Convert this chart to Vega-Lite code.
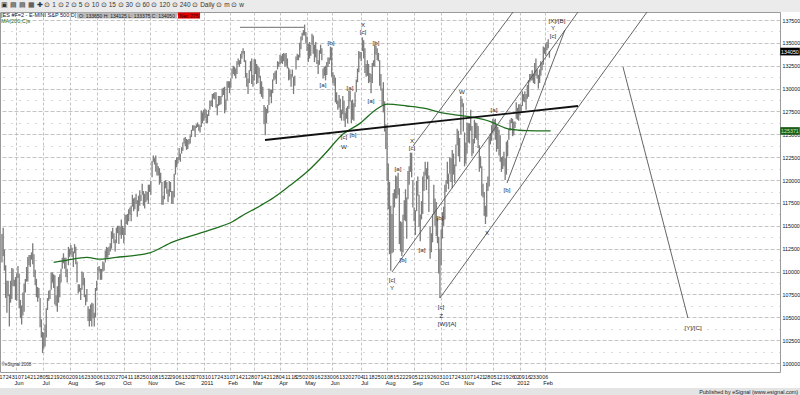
{
"$schema":"https://vega.github.io/schema/vega-lite/v6.json",
"width":780,"height":360,
"autosize":{"type":"none"},
"padding":{"left":0,"top":12,"right":20,"bottom":23},
"background":"white",
"view":{"stroke":"#9a9a9a","strokeWidth":1,"fill":"white"},
"config":{"font":"Liberation Sans","text":{"font":"Liberation Sans"}},
"resolve":{"axis":{"x":"independent","y":"independent"}},
"datasets":{
"bars":[
{"i":0,"h":1141,"l":1110},{"i":1,"h":1148,"l":1117},{"i":2,"h":1124,"l":1101},{"i":3,"h":1107,"l":1071},{"i":4,"h":1090,"l":1055},
{"i":5,"h":1090,"l":1073},{"i":6,"h":1075,"l":1040},{"i":7,"h":1090,"l":1066},{"i":8,"h":1104,"l":1070},{"i":9,"h":1103,"l":1084},
{"i":10,"h":1091,"l":1084},{"i":11,"h":1094,"l":1069},{"i":12,"h":1098,"l":1068},{"i":13,"h":1106,"l":1093},{"i":14,"h":1098,"l":1060},
{"i":15,"h":1069,"l":1049},{"i":16,"h":1063,"l":1042},{"i":17,"h":1077,"l":1052},{"i":18,"h":1087,"l":1056},{"i":19,"h":1092,"l":1077},
{"i":20,"h":1105,"l":1089},{"i":21,"h":1116,"l":1089},{"i":22,"h":1118,"l":1107},{"i":23,"h":1118,"l":1105},{"i":24,"h":1121,"l":1113},
{"i":25,"h":1131,"l":1108},{"i":26,"h":1119,"l":1094},{"i":27,"h":1102,"l":1085},{"i":28,"h":1092,"l":1072},{"i":29,"h":1083,"l":1067},
{"i":30,"h":1082,"l":1071},{"i":31,"h":1071,"l":1039},{"i":32,"h":1048,"l":1028},{"i":33,"h":1034,"l":1011},{"i":34,"h":1033,"l":1016},
{"i":35,"h":1042,"l":1018},{"i":36,"h":1060,"l":1028},{"i":37,"h":1071,"l":1058},{"i":38,"h":1079,"l":1068},{"i":39,"h":1080,"l":1070},
{"i":40,"h":1099,"l":1080},{"i":41,"h":1099,"l":1088},{"i":42,"h":1097,"l":1082},{"i":43,"h":1096,"l":1064},{"i":44,"h":1074,"l":1062},
{"i":45,"h":1084,"l":1056},{"i":46,"h":1094,"l":1066},{"i":47,"h":1097,"l":1072},{"i":48,"h":1103,"l":1088},{"i":49,"h":1115,"l":1103},
{"i":50,"h":1120,"l":1109},{"i":51,"h":1115,"l":1103},{"i":52,"h":1115,"l":1094},{"i":53,"h":1103,"l":1088},{"i":54,"h":1127,"l":1107},
{"i":55,"h":1125,"l":1116},{"i":56,"h":1129,"l":1119},{"i":57,"h":1126,"l":1116},{"i":58,"h":1122,"l":1105},{"i":59,"h":1130,"l":1120},
{"i":60,"h":1127,"l":1108},{"i":61,"h":1111,"l":1088},{"i":62,"h":1086,"l":1076},{"i":63,"h":1086,"l":1078},{"i":64,"h":1082,"l":1069},
{"i":65,"h":1100,"l":1080},{"i":66,"h":1099,"l":1085},{"i":67,"h":1093,"l":1072},{"i":68,"h":1075,"l":1063},{"i":69,"h":1081,"l":1067},
{"i":70,"h":1062,"l":1046},{"i":71,"h":1059,"l":1040},{"i":72,"h":1064,"l":1046},{"i":73,"h":1066,"l":1040},{"i":74,"h":1065,"l":1049},
{"i":75,"h":1055,"l":1040},{"i":76,"h":1082,"l":1050},{"i":77,"h":1090,"l":1079},{"i":78,"h":1105,"l":1091},{"i":79,"h":1106,"l":1100},
{"i":80,"h":1103,"l":1091},{"i":81,"h":1103,"l":1091},{"i":82,"h":1111,"l":1100},{"i":83,"h":1110,"l":1101},{"i":84,"h":1123,"l":1110},
{"i":85,"h":1127,"l":1115},{"i":86,"h":1126,"l":1115},{"i":87,"h":1127,"l":1118},{"i":88,"h":1131,"l":1122},{"i":89,"h":1144,"l":1125},
{"i":90,"h":1148,"l":1136},{"i":91,"h":1142,"l":1131},{"i":92,"h":1135,"l":1122},{"i":93,"h":1148,"l":1131},{"i":94,"h":1150,"l":1142},
{"i":95,"h":1150,"l":1130},{"i":96,"h":1149,"l":1140},{"i":97,"h":1157,"l":1136},{"i":98,"h":1150,"l":1140},{"i":99,"h":1148,"l":1131},
{"i":100,"h":1162,"l":1140},{"i":101,"h":1162,"l":1152},{"i":102,"h":1163,"l":1151},{"i":103,"h":1168,"l":1155},{"i":104,"h":1170,"l":1162},
{"i":105,"h":1172,"l":1155},{"i":106,"h":1184,"l":1171},{"i":107,"h":1180,"l":1166},{"i":108,"h":1181,"l":1168},{"i":109,"h":1185,"l":1174},
{"i":110,"h":1178,"l":1160},{"i":111,"h":1183,"l":1166},{"i":112,"h":1189,"l":1172},{"i":113,"h":1184,"l":1177},{"i":114,"h":1196,"l":1184},
{"i":115,"h":1188,"l":1172},{"i":116,"h":1185,"l":1169},{"i":117,"h":1188,"l":1176},{"i":118,"h":1187,"l":1178},{"i":119,"h":1195,"l":1174},
{"i":120,"h":1195,"l":1187},{"i":121,"h":1199,"l":1184},{"i":122,"h":1221,"l":1203},{"i":123,"h":1227,"l":1220},{"i":124,"h":1224,"l":1217},
{"i":125,"h":1227,"l":1209},{"i":126,"h":1219,"l":1205},{"i":127,"h":1215,"l":1205},{"i":128,"h":1213,"l":1195},{"i":129,"h":1208,"l":1197},
{"i":130,"h":1198,"l":1173},{"i":131,"h":1183,"l":1173},{"i":132,"h":1199,"l":1179},{"i":133,"h":1200,"l":1191},{"i":134,"h":1198,"l":1185},
{"i":135,"h":1190,"l":1176},{"i":136,"h":1199,"l":1182},{"i":137,"h":1198,"l":1187},{"i":138,"h":1188,"l":1174},{"i":139,"h":1188,"l":1174},
{"i":140,"h":1207,"l":1181},{"i":141,"h":1222,"l":1206},{"i":142,"h":1225,"l":1214},{"i":143,"h":1225,"l":1218},{"i":144,"h":1235,"l":1222},
{"i":145,"h":1229,"l":1220},{"i":146,"h":1236,"l":1229},{"i":147,"h":1241,"l":1232},{"i":148,"h":1246,"l":1240},{"i":149,"h":1247,"l":1237},
{"i":150,"h":1245,"l":1233},{"i":151,"h":1244,"l":1234},{"i":152,"h":1245,"l":1239},{"i":153,"h":1249,"l":1240},{"i":154,"h":1255,"l":1247},
{"i":155,"h":1260,"l":1254},{"i":156,"h":1260,"l":1254},{"i":157,"h":1259,"l":1247},{"i":158,"h":1261,"l":1257},{"i":159,"h":1263,"l":1258},
{"i":160,"h":1261,"l":1254},{"i":161,"h":1260,"l":1252},{"i":162,"h":1276,"l":1258},{"i":163,"h":1274,"l":1262},{"i":164,"h":1277,"l":1265},
{"i":165,"h":1278,"l":1268},{"i":166,"h":1277,"l":1262},{"i":167,"h":1272,"l":1262},{"i":168,"h":1277,"l":1270},{"i":169,"h":1287,"l":1277},
{"i":170,"h":1287,"l":1281},{"i":171,"h":1294,"l":1280},{"i":172,"h":1295,"l":1289},{"i":173,"h":1296,"l":1288},{"i":174,"h":1296,"l":1279},
{"i":175,"h":1283,"l":1271},{"i":176,"h":1292,"l":1281},{"i":177,"h":1292,"l":1282},{"i":178,"h":1292,"l":1283},{"i":179,"h":1300,"l":1291},
{"i":180,"h":1301,"l":1293},{"i":181,"h":1302,"l":1273},{"i":182,"h":1288,"l":1276},{"i":183,"h":1308,"l":1287},{"i":184,"h":1308,"l":1301},
{"i":185,"h":1308,"l":1295},{"i":186,"h":1311,"l":1301},{"i":187,"h":1322,"l":1311},{"i":188,"h":1325,"l":1316},{"i":189,"h":1324,"l":1314},
{"i":190,"h":1322,"l":1311},{"i":191,"h":1330,"l":1316},{"i":192,"h":1333,"l":1326},{"i":193,"h":1331,"l":1324},{"i":194,"h":1338,"l":1327},
{"i":195,"h":1341,"l":1333},{"i":196,"h":1344,"l":1338},{"i":197,"h":1341,"l":1329},{"i":198,"h":1331,"l":1312},{"i":199,"h":1317,"l":1302},
{"i":200,"h":1311,"l":1294},{"i":201,"h":1320,"l":1306},{"i":202,"h":1330,"l":1319},{"i":203,"h":1333,"l":1305},{"i":204,"h":1315,"l":1302},
{"i":205,"h":1332,"l":1309},{"i":206,"h":1332,"l":1316},{"i":207,"h":1327,"l":1305},{"i":208,"h":1325,"l":1306},{"i":209,"h":1323,"l":1312},
{"i":210,"h":1314,"l":1294},{"i":211,"h":1308,"l":1291},{"i":212,"h":1302,"l":1289},{"i":213,"h":1282,"l":1261},{"i":214,"h":1280,"l":1249},
{"i":215,"h":1278,"l":1262},{"i":216,"h":1282,"l":1273},{"i":217,"h":1300,"l":1282},{"i":218,"h":1299,"l":1291},{"i":219,"h":1299,"l":1284},
{"i":220,"h":1310,"l":1295},{"i":221,"h":1317,"l":1309},{"i":222,"h":1319,"l":1310},{"i":223,"h":1320,"l":1305},{"i":224,"h":1330,"l":1321},
{"i":225,"h":1329,"l":1324},{"i":226,"h":1337,"l":1327},{"i":227,"h":1336,"l":1328},{"i":228,"h":1338,"l":1327},{"i":229,"h":1339,"l":1330},
{"i":230,"h":1338,"l":1324},{"i":231,"h":1339,"l":1325},{"i":232,"h":1333,"l":1322},{"i":233,"h":1323,"l":1309},{"i":234,"h":1321,"l":1310},
{"i":235,"h":1316,"l":1302},{"i":236,"h":1321,"l":1313},{"i":237,"h":1313,"l":1294},{"i":238,"h":1314,"l":1303},{"i":239,"h":1335,"l":1321},
{"i":240,"h":1338,"l":1331},{"i":241,"h":1337,"l":1331},{"i":242,"h":1350,"l":1334},{"i":243,"h":1357,"l":1343},{"i":244,"h":1361,"l":1353},
{"i":245,"h":1364,"l":1358},{"i":246,"h":1370,"l":1358},{"i":247,"h":1362,"l":1350},{"i":248,"h":1357,"l":1341},{"i":249,"h":1349,"l":1329},
{"i":250,"h":1351,"l":1333},{"i":251,"h":1348,"l":1336},{"i":252,"h":1360,"l":1348},{"i":253,"h":1358,"l":1338},{"i":254,"h":1348,"l":1329},
{"i":255,"h":1351,"l":1334},{"i":256,"h":1343,"l":1327},{"i":257,"h":1331,"l":1316},{"i":258,"h":1342,"l":1326},{"i":259,"h":1348,"l":1338},
{"i":260,"h":1344,"l":1331},{"i":261,"h":1322,"l":1311},{"i":262,"h":1324,"l":1314},{"i":263,"h":1325,"l":1309},{"i":264,"h":1329,"l":1315},
{"i":265,"h":1334,"l":1324},{"i":266,"h":1334,"l":1327},{"i":267,"h":1346,"l":1331},{"i":268,"h":1345,"l":1313},{"i":269,"h":1318,"l":1306},
{"i":270,"h":1315,"l":1303},{"i":271,"h":1312,"l":1285},{"i":272,"h":1296,"l":1283},{"i":273,"h":1287,"l":1277},{"i":274,"h":1293,"l":1279},
{"i":275,"h":1289,"l":1268},{"i":276,"h":1277,"l":1265},{"i":277,"h":1292,"l":1272},{"i":278,"h":1287,"l":1265},{"i":279,"h":1274,"l":1258},
{"i":280,"h":1279,"l":1267},{"i":281,"h":1281,"l":1262},{"i":282,"h":1298,"l":1278},{"i":283,"h":1298,"l":1286},{"i":284,"h":1287,"l":1262},
{"i":285,"h":1288,"l":1266},{"i":286,"h":1284,"l":1265},{"i":287,"h":1296,"l":1280},{"i":288,"h":1310,"l":1296},{"i":289,"h":1322,"l":1307},
{"i":290,"h":1341,"l":1318},{"i":291,"h":1340,"l":1333},{"i":292,"h":1340,"l":1330},{"i":293,"h":1356,"l":1341},{"i":294,"h":1353,"l":1333},
{"i":295,"h":1344,"l":1317},{"i":296,"h":1327,"l":1313},{"i":297,"h":1331,"l":1314},{"i":298,"h":1327,"l":1306},{"i":299,"h":1317,"l":1307},
{"i":300,"h":1316,"l":1295},{"i":301,"h":1328,"l":1306},{"i":302,"h":1331,"l":1324},{"i":303,"h":1348,"l":1324},{"i":304,"h":1347,"l":1337},
{"i":305,"h":1344,"l":1331},{"i":306,"h":1339,"l":1330},{"i":307,"h":1331,"l":1303},{"i":308,"h":1316,"l":1298},{"i":309,"h":1300,"l":1282},
{"i":310,"h":1307,"l":1274},{"i":311,"h":1286,"l":1253},{"i":312,"h":1261,"l":1234},{"i":313,"h":1260,"l":1199},{"i":314,"h":1218,"l":1168},
{"i":315,"h":1198,"l":1119},{"i":316,"h":1172,"l":1101},{"i":317,"h":1163,"l":1120},{"i":318,"h":1186,"l":1121},{"i":319,"h":1190,"l":1170},
{"i":320,"h":1205,"l":1180},{"i":321,"h":1204,"l":1180},{"i":322,"h":1208,"l":1184},{"i":323,"h":1191,"l":1130},{"i":324,"h":1155,"l":1122},
{"i":325,"h":1154,"l":1117},{"i":326,"h":1162,"l":1121},{"i":327,"h":1178,"l":1156},{"i":328,"h":1190,"l":1155},{"i":329,"h":1181,"l":1136},
{"i":330,"h":1210,"l":1179},{"i":331,"h":1215,"l":1195},{"i":332,"h":1230,"l":1209},{"i":333,"h":1230,"l":1203},{"i":334,"h":1200,"l":1170},
{"i":335,"h":1170,"l":1155},{"i":336,"h":1167,"l":1140},{"i":337,"h":1199,"l":1166},{"i":338,"h":1204,"l":1183},{"i":339,"h":1184,"l":1149},
{"i":340,"h":1162,"l":1133},{"i":341,"h":1177,"l":1157},{"i":342,"h":1204,"l":1163},{"i":343,"h":1209,"l":1188},{"i":344,"h":1220,"l":1205},
{"i":345,"h":1213,"l":1189},{"i":346,"h":1220,"l":1201},{"i":347,"h":1205,"l":1165},{"i":348,"h":1149,"l":1114},{"i":349,"h":1142,"l":1121},
{"i":350,"h":1163,"l":1132},{"i":351,"h":1195,"l":1163},{"i":352,"h":1180,"l":1150},{"i":353,"h":1176,"l":1139},{"i":354,"h":1159,"l":1131},
{"i":355,"h":1138,"l":1098},{"i":356,"h":1125,"l":1071},{"i":357,"h":1146,"l":1107},{"i":358,"h":1165,"l":1136},{"i":359,"h":1171,"l":1150},
{"i":360,"h":1195,"l":1157},{"i":361,"h":1200,"l":1187},{"i":362,"h":1220,"l":1196},{"i":363,"h":1207,"l":1190},{"i":364,"h":1225,"l":1207},
{"i":365,"h":1224,"l":1198},{"i":366,"h":1233,"l":1191},{"i":367,"h":1229,"l":1206},{"i":368,"h":1217,"l":1197},{"i":369,"h":1239,"l":1215},
{"i":370,"h":1256,"l":1238},{"i":371,"h":1254,"l":1226},{"i":372,"h":1246,"l":1220},{"i":373,"h":1292,"l":1250},{"i":374,"h":1289,"l":1280},
{"i":375,"h":1284,"l":1253},{"i":376,"h":1252,"l":1215},{"i":377,"h":1241,"l":1218},{"i":378,"h":1263,"l":1229},{"i":379,"h":1262,"l":1241},
{"i":380,"h":1262,"l":1240},{"i":381,"h":1277,"l":1254},{"i":382,"h":1259,"l":1226},{"i":383,"h":1245,"l":1229},{"i":384,"h":1266,"l":1240},
{"i":385,"h":1263,"l":1246},{"i":386,"h":1262,"l":1244},{"i":387,"h":1259,"l":1235},{"i":388,"h":1238,"l":1209},{"i":389,"h":1226,"l":1213},
{"i":390,"h":1215,"l":1183},{"i":391,"h":1196,"l":1181},{"i":392,"h":1187,"l":1161},{"i":393,"h":1172,"l":1152},{"i":394,"h":1197,"l":1160},
{"i":395,"h":1204,"l":1188},{"i":396,"h":1247,"l":1193},{"i":397,"h":1251,"l":1239},{"i":398,"h":1260,"l":1243},{"i":399,"h":1267,"l":1251},
{"i":400,"h":1266,"l":1253},{"i":401,"h":1267,"l":1244},{"i":402,"h":1260,"l":1231},{"i":403,"h":1258,"l":1234},{"i":404,"h":1255,"l":1227},
{"i":405,"h":1249,"l":1220},{"i":406,"h":1225,"l":1209},{"i":407,"h":1226,"l":1212},{"i":408,"h":1231,"l":1215},{"i":409,"h":1224,"l":1200},
{"i":410,"h":1242,"l":1206},{"i":411,"h":1244,"l":1226},{"i":412,"h":1256,"l":1244},{"i":413,"h":1266,"l":1254},{"i":414,"h":1268,"l":1262},
{"i":415,"h":1267,"l":1248},{"i":416,"h":1264,"l":1249},{"i":417,"h":1264,"l":1257},{"i":418,"h":1285,"l":1267},{"i":419,"h":1279,"l":1266},
{"i":420,"h":1283,"l":1265},{"i":421,"h":1283,"l":1271},{"i":422,"h":1282,"l":1274},{"i":423,"h":1297,"l":1281},{"i":424,"h":1294,"l":1286},
{"i":425,"h":1297,"l":1285},{"i":426,"h":1294,"l":1277},{"i":427,"h":1304,"l":1289},{"i":428,"h":1309,"l":1291},{"i":429,"h":1316,"l":1307},
{"i":430,"h":1316,"l":1309},{"i":431,"h":1320,"l":1309},{"i":432,"h":1316,"l":1306},{"i":433,"h":1328,"l":1305},{"i":434,"h":1333,"l":1314},
{"i":435,"h":1321,"l":1311},{"i":436,"h":1315,"l":1300},{"i":437,"h":1321,"l":1306},{"i":438,"h":1330,"l":1314},{"i":439,"h":1328,"l":1320},
{"i":440,"h":1346,"l":1326},{"i":441,"h":1345,"l":1338},{"i":442,"h":1349,"l":1336},{"i":443,"h":1351,"l":1342},{"i":444,"h":1354,"l":1344},
{"i":445,"h":1341.25,"l":1333.75}
],
"ma":[
{"i":42,"v":1110},{"i":53,"v":1112.5},{"i":69,"v":1115.5},{"i":80,"v":1113.5},{"i":93,"v":1115.5},{"i":107,"v":1117.5},
{"i":120,"v":1120.5},{"i":139,"v":1132.5},{"i":161,"v":1142},{"i":175,"v":1148},{"i":188,"v":1155},{"i":194,"v":1160},
{"i":210,"v":1172},{"i":221,"v":1181},{"i":234,"v":1194},{"i":248,"v":1209},{"i":262,"v":1228},{"i":277,"v":1250},
{"i":291,"v":1262},{"i":305,"v":1278},{"i":313,"v":1283},{"i":329,"v":1281},{"i":345,"v":1278},{"i":356,"v":1274},
{"i":370,"v":1271},{"i":383,"v":1268.5},{"i":397,"v":1264},{"i":410,"v":1256.5},{"i":420,"v":1254.5},{"i":427,"v":1254},
{"i":446,"v":1253.7}
],
"channels":[
{"g":"L1","i":334.1,"p":1237.2},{"g":"L1","i":415.4,"p":1383.7},
{"g":"L2","i":317.0,"p":1099.5},{"g":"L2","i":468.2,"p":1383.7},
{"g":"L3","i":356.0,"p":1071.1},{"g":"L3","i":524.3,"p":1383.7},
{"g":"L4","i":410.5,"p":1196.8},{"g":"L4","i":457.6,"p":1364.1},
{"g":"L5","i":504.8,"p":1323.6},{"g":"L5","i":557.6,"p":1049.2}
],
"hline":[{"i":193.5,"p":1367},{"i":246.3,"p":1367}],
"trend":[{"i":213.8,"p":1243.8},{"i":468.2,"p":1281.0}],
"labels":[
{"i":267.4,"p":1349.9,"t":"[b]"},{"i":260.9,"p":1303.9,"t":"[a]"},{"i":293.5,"p":1369.5,"t":"X"},{"i":293.5,"p":1361.9,"t":"[c]"},
{"i":304.0,"p":1349.9,"t":"[b]"},{"i":282.9,"p":1300.7,"t":"[a]"},{"i":300.0,"p":1286.4,"t":"[a]"},{"i":278.0,"p":1247.1,"t":"[c]"},
{"i":278.0,"p":1236.2,"t":"W"},{"i":285.3,"p":1249.3,"t":"[b]"},{"i":321.9,"p":1212.1,"t":"[a]"},{"i":325.9,"p":1112.6,"t":"[b]"},
{"i":317.0,"p":1090.7,"t":"[c]"},{"i":317.0,"p":1082.0,"t":"Y"},{"i":333.3,"p":1242.7,"t":"X"},{"i":333.3,"p":1235.1,"t":"[c]"},
{"i":341.4,"p":1123.5,"t":"[a]"},{"i":356.0,"p":1158.5,"t":"[b]"},{"i":356.9,"p":1061.2,"t":"[c]"},{"i":356.9,"p":1051.4,"t":"Z"},
{"i":361.7,"p":1042.6,"t":"[W]/[A]"},{"i":373.9,"p":1296.3,"t":"W"},{"i":399.9,"p":1276.6,"t":"[a]"},{"i":394.2,"p":1142.1,"t":"X"},
{"i":410.5,"p":1189.1,"t":"[b]"},{"i":451.1,"p":1373.9,"t":"[X]/[B]"},{"i":447.9,"p":1366.3,"t":"Y"},{"i":447.9,"p":1357.5,"t":"[c]"},
{"i":561.7,"p":1038.3,"t":"[Y]/[C]"}
]
},
"layer":[
{"data":{"values":[{}]},"mark":{"type":"rect","color":"#ebebeb","clip":false},
 "encoding":{"x":{"datum":-1.6,"type":"quantitative","scale":{"domain":[-1.6,632.4],"nice":false,"zero":false},"axis":null},"x2":{"datum":652},
 "y":{"datum":1383.75,"type":"quantitative","scale":{"domain":[990.2,1383.75],"nice":false,"zero":false},"axis":null},"y2":{"datum":1398}}},
{"data":{"values":[{}]},"mark":{"type":"rect","color":"#e4e4e4","clip":false},
 "encoding":{"x":{"datum":-1.6,"type":"quantitative","scale":{"domain":[-1.6,632.4],"nice":false,"zero":false},"axis":null},"x2":{"datum":652},
 "y":{"datum":972.7,"type":"quantitative","scale":{"domain":[990.2,1383.75],"nice":false,"zero":false},"axis":null},"y2":{"datum":955}}},
{"data":{"name":"bars"},"mark":{"type":"rule","color":"#7c7c7c","strokeWidth":1.3},
 "encoding":{
  "x":{"field":"i","type":"quantitative","scale":{"domain":[-1.6,632.4],"nice":false,"zero":false},
   "axis":{"orient":"bottom","title":null,"grid":false,"ticks":false,"tickSize":0,"domain":false,"labelPadding":2,"labelFontSize":5.3,"labelColor":"#111","labelOverlap":false,"labelFlush":false,"labelBaseline":"top",
   "values":[0,5.001,10.002,15.003,20.004,25.005,30.006,35.007,39.008,44.009,49.010,54.011,59.012,64.013,69.014,74.015,79.016,84.017,89.018,94.019,99.020,104.021,109.022,114.023,119.024,124.025,129.026,134.027,138.028,143.029,148.030,153.031,157.032,162.033,167.034,172.035,177.036,182.037,187.038,192.039,197.040,202.041,207.042,212.043,217.044,222.045,227.046,232.047,237.048,241.049,246.050,251.051,256.052,261.053,266.054,271.055,276.056,281.057,286.058,291.059,295.060,300.061,305.062,310.063,315.064,320.065,325.066,330.067,335.068,340.069,345.070,350.071,355.072,360.073,365.074,370.075,375.076,380.077,385.078,390.079,394.080,399.081,404.082,409.083,414.084,418.085,422.086,427.087,431.088,436.089,441.090],
   "labelExpr":"timeFormat(datetime(2010, 4, 17 + 7 * round((datum.value % 1) * 1000)), '%d')"}},
  "y":{"field":"l","type":"quantitative","scale":{"domain":[990.2,1383.75],"nice":false,"zero":false},
   "axis":{"orient":"right","title":null,"grid":true,"gridColor":"#b5b5b5","gridDash":[4,2],"gridWidth":0.8,"domain":false,"ticks":false,"tickSize":0,"labelPadding":2,"labelFontSize":5.3,"labelColor":"#111","labelAlign":"left","labelBaseline":"middle","labelFlush":false,"labelOverlap":false,
   "values":[1000,1025,1050,1075,1100,1125,1150,1175,1200,1225,1250,1275,1300,1325,1350,1375],
   "labelExpr":"format(datum.value * 100, 'd')"}},
  "y2":{"field":"h"}}},
{"data":{"name":"ma"},"mark":{"type":"line","color":"#1e6e1e","strokeWidth":1.3,"interpolate":"monotone"},
 "encoding":{
  "x":{"field":"i","type":"quantitative","scale":{"domain":[-1.6,632.4],"nice":false,"zero":false},
   "axis":{"orient":"bottom","title":null,"grid":true,"gridColor":"#b5b5b5","gridDash":[3,2],"gridWidth":0.8,"ticks":false,"tickSize":0,"domain":false,"labelPadding":8,"labelFontSize":5.6,"labelColor":"#111","labelOffset":3,"labelOverlap":false,"labelFlush":false,"labelBaseline":"top",
   "values":[11.000,33.001,55.002,77.003,99.004,120.005,142.006,164.007,185.008,205.009,226.010,248.011,268.012,292.013,313.014,335.015,357.016,377.017,399.018,421.019,441.020],
   "labelExpr":"['Jun','Jul','Aug','Sep','Oct','Nov','Dec','2011','Feb','Mar','Apr','May','Jun','Jul','Aug','Sep','Oct','Nov','Dec','2012','Feb'][round((datum.value % 1) * 1000)]"}},
  "y":{"field":"v","type":"quantitative","scale":{"domain":[990.2,1383.75],"nice":false,"zero":false},
   "axis":{"orient":"right","title":null,"grid":true,"gridColor":"#a0a0a0","gridDash":[1,7],"gridWidth":0.8,"labels":false,"ticks":false,"domain":false,
   "values":[1012.5,1037.5,1062.5,1087.5,1112.5,1137.5,1162.5,1187.5,1212.5,1237.5,1262.5,1287.5,1312.5,1337.5,1362.5]}}}},
{"data":{"name":"hline"},"mark":{"type":"line","color":"#8a8a8a","strokeWidth":1.2},
 "encoding":{"x":{"field":"i","type":"quantitative","scale":{"domain":[-1.6,632.4],"nice":false,"zero":false},"axis":null},
  "y":{"field":"p","type":"quantitative","scale":{"domain":[990.2,1383.75],"nice":false,"zero":false},"axis":null}}},
{"data":{"name":"channels"},"mark":{"type":"line","color":"#555555","strokeWidth":0.9,"clip":true},
 "encoding":{"x":{"field":"i","type":"quantitative","scale":{"domain":[-1.6,632.4],"nice":false,"zero":false},"axis":null},
  "y":{"field":"p","type":"quantitative","scale":{"domain":[990.2,1383.75],"nice":false,"zero":false},"axis":null},
  "detail":{"field":"g"}}},
{"data":{"name":"trend"},"mark":{"type":"line","color":"#111111","strokeWidth":1.8},
 "encoding":{"x":{"field":"i","type":"quantitative","scale":{"domain":[-1.6,632.4],"nice":false,"zero":false},"axis":null},
  "y":{"field":"p","type":"quantitative","scale":{"domain":[990.2,1383.75],"nice":false,"zero":false},"axis":null}}},
{"data":{"name":"labels"},"mark":{"type":"text","fontSize":6.2,"color":"#2a2a2a","align":"center","baseline":"middle"},
 "encoding":{"x":{"field":"i","type":"quantitative","scale":{"domain":[-1.6,632.4],"nice":false,"zero":false},"axis":null},
  "y":{"field":"p","type":"quantitative","scale":{"domain":[990.2,1383.75],"nice":false,"zero":false},"axis":null},
  "text":{"field":"t"}}},
{"data":{"values":[{}]},"mark":{"type":"text","fontSize":6.5,"color":"#333","align":"left","baseline":"middle","clip":false},
 "encoding":{"x":{"datum":-0.5,"type":"quantitative","scale":{"domain":[-1.6,632.4],"nice":false,"zero":false},"axis":null},
  "y":{"datum":1391.4,"type":"quantitative","scale":{"domain":[990.2,1383.75],"nice":false,"zero":false},"axis":null},
  "text":{"value":"▣ ▤ ▤ ▦ ✚  ⊙ 1   ⊙ 2   ⊙ 5   ⊙ 10   ⊙ 15   ⊙ 30   ⊙ 60   ⊙ 120   ⊙ 240   ⊙ Daily   ⊙ m   ⊙ w"}}},
{"data":{"values":[{}]},"mark":{"type":"rect","color":"#bcbcbc"},
 "encoding":{"x":{"datum":61.0,"type":"quantitative","scale":{"domain":[-1.6,632.4],"nice":false,"zero":false},"axis":null},"x2":{"datum":142.3},
  "y":{"datum":1376.6,"type":"quantitative","scale":{"domain":[990.2,1383.75],"nice":false,"zero":false},"axis":null},"y2":{"datum":1383.2}}},
{"data":{"values":[{}]},"mark":{"type":"rect","color":"#e30000"},
 "encoding":{"x":{"datum":143.1,"type":"quantitative","scale":{"domain":[-1.6,632.4],"nice":false,"zero":false},"axis":null},"x2":{"datum":161},
  "y":{"datum":1376.6,"type":"quantitative","scale":{"domain":[990.2,1383.75],"nice":false,"zero":false},"axis":null},"y2":{"datum":1383.2}}},
{"data":{"values":[{}]},"mark":{"type":"text","fontSize":5,"color":"#222","align":"center","baseline":"middle"},
 "encoding":{"x":{"datum":101.6,"type":"quantitative","scale":{"domain":[-1.6,632.4],"nice":false,"zero":false},"axis":null},
  "y":{"datum":1379.9,"type":"quantitative","scale":{"domain":[990.2,1383.75],"nice":false,"zero":false},"axis":null},
  "text":{"value":"O: 133650    H: 134125    L: 133375    C: 134050"}}},
{"data":{"values":[{}]},"mark":{"type":"text","fontSize":5,"color":"#300000","align":"center","baseline":"middle"},
 "encoding":{"x":{"datum":152,"type":"quantitative","scale":{"domain":[-1.6,632.4],"nice":false,"zero":false},"axis":null},
  "y":{"datum":1379.9,"type":"quantitative","scale":{"domain":[990.2,1383.75],"nice":false,"zero":false},"axis":null},
  "text":{"value":"Net: 275"}}},
{"data":{"values":[{}]},"mark":{"type":"text","fontSize":5.5,"color":"#101040","align":"left","baseline":"middle"},
 "encoding":{"x":{"datum":-0.8,"type":"quantitative","scale":{"domain":[-1.6,632.4],"nice":false,"zero":false},"axis":null},
  "y":{"datum":1380.2,"type":"quantitative","scale":{"domain":[990.2,1383.75],"nice":false,"zero":false},"axis":null},
  "text":{"value":"[ES #F=2 - E-MINI S&P 500,D]"}}},
{"data":{"values":[{}]},"mark":{"type":"text","fontSize":5.5,"color":"#1f6b1f","align":"left","baseline":"middle"},
 "encoding":{"x":{"datum":-0.8,"type":"quantitative","scale":{"domain":[-1.6,632.4],"nice":false,"zero":false},"axis":null},
  "y":{"datum":1373.6,"type":"quantitative","scale":{"domain":[990.2,1383.75],"nice":false,"zero":false},"axis":null},
  "text":{"value":"MA(200,C)s"}}},
{"data":{"values":[{}]},"mark":{"type":"text","fontSize":4.5,"color":"#333","align":"left","baseline":"middle"},
 "encoding":{"x":{"datum":-0.3,"type":"quantitative","scale":{"domain":[-1.6,632.4],"nice":false,"zero":false},"axis":null},
  "y":{"datum":997.5,"type":"quantitative","scale":{"domain":[990.2,1383.75],"nice":false,"zero":false},"axis":null},
  "text":{"value":"©eSignal 2008"}}},
{"data":{"values":[{}]},"mark":{"type":"text","fontSize":5.5,"color":"#222","align":"right","baseline":"middle","clip":false},
 "encoding":{"x":{"datum":647.2,"type":"quantitative","scale":{"domain":[-1.6,632.4],"nice":false,"zero":false},"axis":null},
  "y":{"datum":968.8,"type":"quantitative","scale":{"domain":[990.2,1383.75],"nice":false,"zero":false},"axis":null},
  "text":{"value":"Published by eSignal (www.esignal.com)"}}},
{"data":{"values":[{}]},"mark":{"type":"rect","color":"#000000","clip":false},
 "encoding":{"x":{"datum":632.6,"type":"quantitative","scale":{"domain":[-1.6,632.4],"nice":false,"zero":false},"axis":null},"x2":{"datum":648.5},
  "y":{"datum":1336.3,"type":"quantitative","scale":{"domain":[990.2,1383.75],"nice":false,"zero":false},"axis":null},"y2":{"datum":1344.7}}},
{"data":{"values":[{}]},"mark":{"type":"text","fontSize":5.3,"color":"#ffffff","align":"center","baseline":"middle","clip":false},
 "encoding":{"x":{"datum":640.5,"type":"quantitative","scale":{"domain":[-1.6,632.4],"nice":false,"zero":false},"axis":null},
  "y":{"datum":1340.5,"type":"quantitative","scale":{"domain":[990.2,1383.75],"nice":false,"zero":false},"axis":null},
  "text":{"value":"134050"}}},
{"data":{"values":[{}]},"mark":{"type":"rect","color":"#1c5c1c","clip":false},
 "encoding":{"x":{"datum":632.6,"type":"quantitative","scale":{"domain":[-1.6,632.4],"nice":false,"zero":false},"axis":null},"x2":{"datum":648.5},
  "y":{"datum":1249.5,"type":"quantitative","scale":{"domain":[990.2,1383.75],"nice":false,"zero":false},"axis":null},"y2":{"datum":1257.9}}},
{"data":{"values":[{}]},"mark":{"type":"text","fontSize":5.3,"color":"#c6f0a8","align":"center","baseline":"middle","clip":false},
 "encoding":{"x":{"datum":640.5,"type":"quantitative","scale":{"domain":[-1.6,632.4],"nice":false,"zero":false},"axis":null},
  "y":{"datum":1253.71,"type":"quantitative","scale":{"domain":[990.2,1383.75],"nice":false,"zero":false},"axis":null},
  "text":{"value":"125371"}}}
]
}
